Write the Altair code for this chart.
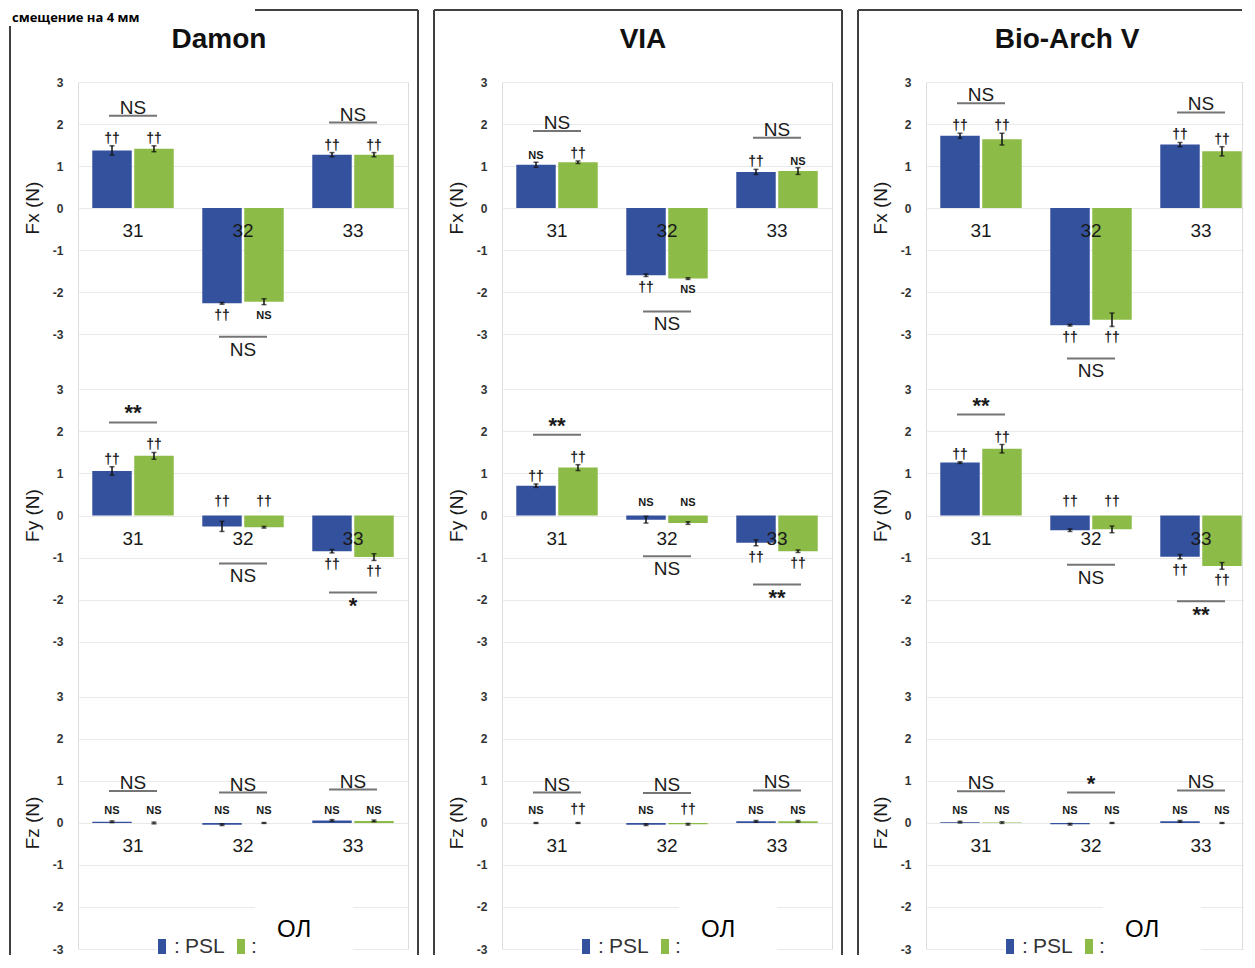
import altair as alt
import pandas as pd

# ---------------- data ----------------
teeth = ["31", "32", "33"]
components = ["Fx", "Fy", "Fz"]
axis_titles = ["Fx (N)", "Fy (N)", "Fz (N)"]
series = ["PSL", "ОЛ"]
panels = ["Damon", "VIA", "Bio-Arch V"]
tick_labels = [3, 2, 1, 0, -1, -2, -3]
header_text = "смещение на 4 мм"

# order inside each list: Fx 31,32,33 | Fy 31,32,33 | Fz 31,32,33
damon_psl = [1.37, -2.27, 1.27, 1.06, -0.26, -0.85, 0.03, -0.04, 0.06]
damon_psl_err = [0.11, 0.02, 0.05, 0.10, 0.12, 0.04, 0.02, 0.02, 0.02]
damon_psl_sig = ["††", "††", "††", "††", "††", "††", "NS", "NS", "NS"]
damon_ol = [1.41, -2.23, 1.27, 1.42, -0.28, -0.99, 0.0, 0.0, 0.05]
damon_ol_err = [0.07, 0.07, 0.05, 0.08, 0.02, 0.08, 0.02, 0.01, 0.02]
damon_ol_sig = ["††", "NS", "††", "††", "††", "††", "NS", "NS", "NS"]
damon_group_sig = ["NS", "NS", "NS", "**", "NS", "*", "NS", "NS", "NS"]

via_psl = [1.03, -1.60, 0.86, 0.71, -0.10, -0.65, 0.0, -0.04, 0.04]
via_psl_err = [0.06, 0.03, 0.06, 0.04, 0.08, 0.07, 0.01, 0.02, 0.02]
via_psl_sig = ["NS", "††", "††", "††", "NS", "††", "NS", "NS", "NS"]
via_ol = [1.09, -1.68, 0.88, 1.14, -0.18, -0.85, 0.0, -0.03, 0.04]
via_ol_err = [0.03, 0.02, 0.08, 0.07, 0.03, 0.03, 0.01, 0.02, 0.02]
via_ol_sig = ["††", "NS", "NS", "††", "NS", "††", "††", "††", "NS"]
via_group_sig = ["NS", "NS", "NS", "**", "NS", "**", "NS", "NS", "NS"]

bio_psl = [1.72, -2.79, 1.51, 1.26, -0.35, -0.98, 0.02, -0.03, 0.04]
bio_psl_err = [0.06, 0.02, 0.05, 0.02, 0.03, 0.05, 0.02, 0.02, 0.02]
bio_psl_sig = ["††", "††", "††", "††", "††", "††", "NS", "NS", "NS"]
bio_ol = [1.64, -2.66, 1.35, 1.59, -0.33, -1.20, 0.01, 0.0, 0.0]
bio_ol_err = [0.14, 0.16, 0.11, 0.10, 0.08, 0.08, 0.02, 0.01, 0.01]
bio_ol_sig = ["††", "††", "††", "††", "††", "††", "NS", "NS", "NS"]
bio_group_sig = ["NS", "NS", "NS", "**", "NS", "**", "NS", "*", "NS"]

# ---------------- layout / style ----------------
BLUE = "#34519e"
GREEN = "#8cbb47"
TXT = "#1a1a1a"
FONT = "Liberation Sans"
K = 7.32                      # vertical distance (in N) between sub-plot zero lines
OFFSETS = {"Fx": 0.0, "Fy": -K, "Fz": -2 * K}
PLOT_H = 867
BAND_RANGE = 330              # horizontal extent of the three tooth groups
BOTTOM = PLOT_H + 6           # where the panel frame leaves the picture
LEG = PLOT_H - 10             # top of the legend swatches

ticks = [OFFSETS[c] + v for c in components for v in tick_labels]
label_expr = ("toString(round(datum.value > -3.66 ? datum.value : "
              "datum.value > -10.98 ? datum.value + 7.32 : datum.value + 14.64))")


def build_tables(psl, psl_err, psl_sig, ol, ol_err, ol_sig, group_sig):
    rows = []
    for s, vals, errs, sigs in [(series[0], psl, psl_err, psl_sig),
                                (series[1], ol, ol_err, ol_sig)]:
        for i, (v, e, g) in enumerate(zip(vals, errs, sigs)):
            comp = components[i // 3]
            base = OFFSETS[comp]
            above = v > -0.5
            anchor = base + (max(v + e, 0.15) if above else v - e)
            rows.append(dict(comp=comp, tooth=teeth[i % 3], series=s, value=v,
                             base=base, top=base + v, lo=base + v - e, hi=base + v + e,
                             sig=g, anchor=anchor,
                             side="above" if above else "below",
                             kind="NS" if g == "NS" else "mark"))
    grows = []
    for i, g in enumerate(group_sig):
        comp = components[i // 3]
        base = OFFSETS[comp]
        down = min(psl[i], ol[i]) < -0.08
        if down:
            ext = min(psl[i] - psl_err[i], ol[i] - ol_err[i], 0)
        else:
            ext = max(psl[i] + psl_err[i], ol[i] + ol_err[i], 0)
        grows.append(dict(comp=comp, tooth=teeth[i % 3], sig=g, base=base,
                          ext=base + ext, side="below" if down else "above",
                          kind="NS" if g == "NS" else "star"))
    return pd.DataFrame(rows), pd.DataFrame(grows)


one = pd.DataFrame({"a": [0]})


def column(name, tables, width, first, right_border):
    bars, groups = tables
    x = alt.X("tooth:N", scale=alt.Scale(domain=teeth, range=[0, BAND_RANGE],
                                         paddingInner=0, paddingOuter=0), axis=None)
    xoff = alt.XOffset("series:N", scale=alt.Scale(domain=series, paddingInner=0.06, paddingOuter=0.34))
    ys = alt.Scale(domain=[-2 * K - 3, 3], nice=False, zero=False)
    yaxis = alt.Axis(values=ticks, labelExpr=label_expr, grid=True, gridColor="#e9e9e9",
                     gridWidth=1, domain=False, ticks=False, labelFontWeight="bold",
                     labelFontSize=12, labelColor="#333333", labelPadding=15,
                     labelFont=FONT, title=None)

    def Y(field):
        return alt.Y(field, type="quantitative", scale=ys, axis=yaxis)

    color = alt.Color("series:N", scale=alt.Scale(domain=series, range=[BLUE, GREEN]), legend=None)

    layers = []
    layers.append(alt.Chart(bars).mark_bar().encode(
        x=x, xOffset=xoff, y=Y("base:Q"), y2=alt.Y2("top:Q"), color=color))
    layers.append(alt.Chart(bars).mark_rule(color="#111111", strokeWidth=1.5).encode(
        x=x, xOffset=xoff, y=Y("lo:Q"), y2=alt.Y2("hi:Q")))
    for f in ["lo:Q", "hi:Q"]:
        layers.append(alt.Chart(bars).mark_tick(color="#111111", size=5, thickness=1.5).encode(
            x=x, xOffset=xoff, y=Y(f)))
    # tooth labels
    layers.append(alt.Chart(groups).mark_text(dy=23, fontSize=19, font=FONT, color=TXT,
                                              baseline="middle").encode(
        x=x, y=Y("base:Q"), text="tooth:N"))
    # per-bar significance
    for side, baseline, dy in [("above", "alphabetic", -3), ("below", "top", 5)]:
        for kind, fs, fw in [("mark", 14, "bold"), ("NS", 11, "bold")]:
            layers.append(alt.Chart(bars).transform_filter(
                f"datum.side == '{side}' && datum.kind == '{kind}'").mark_text(
                baseline=baseline, dy=dy, fontSize=fs, fontWeight=fw, font=FONT, color=TXT).encode(
                x=x, xOffset=xoff, y=Y("anchor:Q"), text="sig:N"))
    # group comparison lines and labels
    for side, off, baseline, dy in [("above", -30, "alphabetic", -32), ("below", 32, "top", 36)]:
        layers.append(alt.Chart(groups).transform_filter(f"datum.side == '{side}'").mark_tick(
            size=48, thickness=2, color="#3a3a3a", yOffset=off).encode(x=x, y=Y("ext:Q")))
        for kind, fw, fs in [("NS", "normal", 19), ("star", "bold", 22)]:
            layers.append(alt.Chart(groups).transform_filter(
                f"datum.side == '{side}' && datum.kind == '{kind}'").mark_text(
                baseline=baseline, dy=dy, fontSize=fs, fontWeight=fw, font=FONT, color=TXT).encode(
                x=x, y=Y("ext:Q"), text="sig:N"))
    # axis titles for each sub-plot
    tdf = pd.DataFrame({"comp": components, "title": axis_titles,
                        "base": [OFFSETS[c] for c in components]})
    layers.append(alt.Chart(tdf).mark_text(angle=270, fontSize=19, font=FONT, color=TXT,
                                           baseline="middle", align="center").encode(
        x=alt.value(-45), y=Y("base:Q"), text="title:N"))
    # panel title
    layers.append(alt.Chart(pd.DataFrame({"name": [name]})).mark_text(
        fontSize=28, fontWeight="bold", font=FONT, color="#111111", align="center",
        baseline="alphabetic").encode(text="name:N", x=alt.value(141), y=alt.value(-34)))
    # header text (visible only in the first panel; keeps bounds equal in all)
    layers.append(alt.Chart(pd.DataFrame({"h": [header_text]})).mark_text(
        fontSize=13, fontWeight="bold", font="Open Sans", color="#000000", align="left",
        baseline="alphabetic", opacity=1 if first else 0).encode(
        text="h:N", x=alt.value(-66), y=alt.value(-60)))
    # panel border
    bc = "#404040"
    layers.append(alt.Chart(one).mark_rule(color=bc, strokeWidth=2).encode(
        x=alt.value(177 if first else -68), x2=alt.value(340 if right_border else width),
        y=alt.value(-72)))
    layers.append(alt.Chart(one).mark_rule(color=bc, strokeWidth=2).encode(
        x=alt.value(-68), y=alt.value(-56 if first else -72), y2=alt.value(BOTTOM)))
    if right_border:
        layers.append(alt.Chart(one).mark_rule(color=bc, strokeWidth=2).encode(
            x=alt.value(340), y=alt.value(-72), y2=alt.value(BOTTOM)))
    # legend
    layers.append(alt.Chart(one).mark_rect(color="white").encode(
        x=alt.value(79), x2=alt.value(177), y=alt.value(LEG - 11), y2=alt.value(BOTTOM)))
    layers.append(alt.Chart(one).mark_rect(color="white").encode(
        x=alt.value(177), x2=alt.value(275), y=alt.value(LEG - 38), y2=alt.value(BOTTOM)))
    layers.append(alt.Chart(one).mark_rect(color=BLUE).encode(
        x=alt.value(80), x2=alt.value(88), y=alt.value(LEG), y2=alt.value(LEG + 15)))
    layers.append(alt.Chart(one).mark_rect(color=GREEN).encode(
        x=alt.value(159), x2=alt.value(167), y=alt.value(LEG), y2=alt.value(LEG + 15)))
    for txt, xv in [(":", 96), (series[0], 107), (":", 173)]:
        layers.append(alt.Chart(pd.DataFrame({"t": [txt]})).mark_text(
            fontSize=21, font=FONT, color="#333333", align="left", baseline="alphabetic").encode(
            text="t:N", x=alt.value(xv), y=alt.value(LEG + 14)))
    layers.append(alt.Chart(pd.DataFrame({"t": [series[1]]})).mark_text(
        fontSize=24, font=FONT, color="#000000", align="left", baseline="alphabetic").encode(
        text="t:N", x=alt.value(199), y=alt.value(LEG - 2)))

    return alt.layer(*layers).properties(width=width, height=PLOT_H)


col1 = column(panels[0], build_tables(damon_psl, damon_psl_err, damon_psl_sig, damon_ol,
                                      damon_ol_err, damon_ol_sig, damon_group_sig), 330, True, True)
col2 = column(panels[1], build_tables(via_psl, via_psl_err, via_psl_sig, via_ol,
                                      via_ol_err, via_ol_sig, via_group_sig), 330, False, True)
col3 = column(panels[2], build_tables(bio_psl, bio_psl_err, bio_psl_sig, bio_ol,
                                      bio_ol_err, bio_ol_sig, bio_group_sig), 316, False, False)

# "flush" bounds: panels are spaced by their plot areas only, so the frames
# drawn outside the plot areas do not widen the layout.
chart = alt.hconcat(col1, col2, col3, spacing=94, bounds="flush").properties(
    padding={"top": 0, "left": 0, "right": 0, "bottom": -1}
).configure_view(stroke=None).configure(background="white")

chart.save("out.html", embed_options={"renderer": "svg", "actions": False})
